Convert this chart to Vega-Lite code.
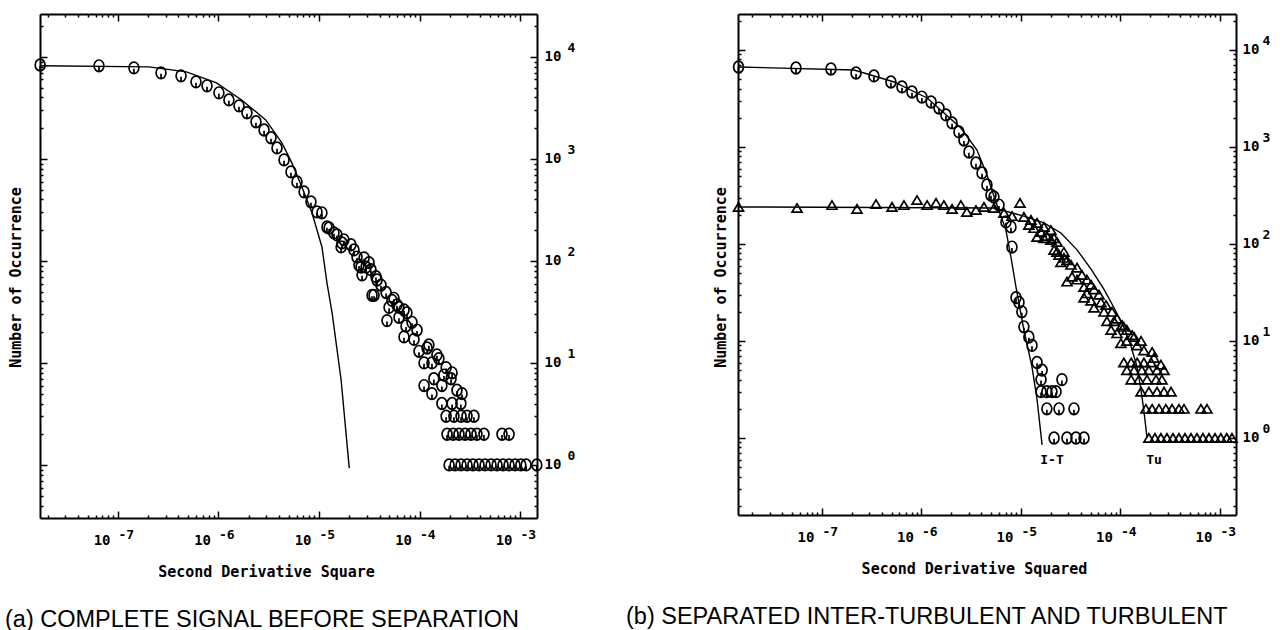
{
  "$schema": "https://vega.github.io/schema/vega-lite/v6.json",
  "background": "white",
  "padding": {"left": 5, "top": 13, "right": 0, "bottom": 0},
  "config": {
    "view": {"stroke": null},
    "axis": {"grid": false, "domainColor": "black", "domainWidth": 2, "tickColor": "black", "tickWidth": 1.5, "labelColor": "black", "titleColor": "black", "labelFont": "DejaVu Sans Mono", "labelFontWeight": "bold", "labelFontSize": 14, "titleFont": "DejaVu Sans Mono", "titleFontWeight": "bold", "titleFontSize": 15, "labelFlush": false, "labelOverlap": false, "labelBound": false}
  },
  "datasets": {
    "a_pts": [
      {"x": 1.68e-8, "y": 8320}, {"x": 6.47e-8, "y": 8170}, {"x": 1.44e-7, "y": 7800}, {"x": 2.68e-7, "y": 6970}, {"x": 4.24e-7, "y": 6510},
      {"x": 5.97e-7, "y": 5690}, {"x": 7.69e-7, "y": 5200}, {"x": 1.01e-6, "y": 4440}, {"x": 1.27e-6, "y": 3780}, {"x": 1.60e-6, "y": 3310},
      {"x": 1.92e-6, "y": 2830}, {"x": 2.36e-6, "y": 2310}, {"x": 2.84e-6, "y": 1920}, {"x": 3.33e-6, "y": 1610}, {"x": 3.82e-6, "y": 1280},
      {"x": 4.49e-6, "y": 977}, {"x": 5.26e-6, "y": 746}, {"x": 6.04e-6, "y": 595}, {"x": 7.10e-6, "y": 475}, {"x": 8.32e-6, "y": 379},
      {"x": 9.55e-6, "y": 302}, {"x": 1.07e-5, "y": 296}, {"x": 1.20e-5, "y": 215}, {"x": 1.26e-5, "y": 210}, {"x": 1.41e-5, "y": 188},
      {"x": 1.51e-5, "y": 180}, {"x": 1.66e-5, "y": 137}, {"x": 1.69e-5, "y": 150}, {"x": 1.77e-5, "y": 161}, {"x": 2.08e-5, "y": 144},
      {"x": 2.23e-5, "y": 128}, {"x": 2.39e-5, "y": 109}, {"x": 2.81e-5, "y": 107},
      {"x": 2.50e-5, "y": 91}, {"x": 2.62e-5, "y": 87}, {"x": 2.68e-5, "y": 73}, {"x": 2.94e-5, "y": 87}, {"x": 3.15e-5, "y": 96},
      {"x": 3.29e-5, "y": 82}, {"x": 3.37e-5, "y": 46}, {"x": 3.53e-5, "y": 46}, {"x": 3.69e-5, "y": 70}, {"x": 3.78e-5, "y": 65},
      {"x": 4.14e-5, "y": 58}, {"x": 5.57e-5, "y": 43}, {"x": 7.02e-5, "y": 33}, {"x": 9.45e-5, "y": 21}, {"x": 1.24e-4, "y": 15},
      {"x": 1.49e-4, "y": 12}, {"x": 1.75e-4, "y": 7.6}, {"x": 2.36e-4, "y": 5.4},
      {"x": 4.65e-5, "y": 49}, {"x": 4.75e-5, "y": 26}, {"x": 4.98e-5, "y": 35}, {"x": 5.32e-5, "y": 41}, {"x": 5.97e-5, "y": 37},
      {"x": 6.25e-5, "y": 35}, {"x": 6.25e-5, "y": 28}, {"x": 7.01e-5, "y": 18}, {"x": 7.34e-5, "y": 23}, {"x": 7.51e-5, "y": 31},
      {"x": 8.42e-5, "y": 25}, {"x": 8.82e-5, "y": 17}, {"x": 9.89e-5, "y": 13}, {"x": 1.11e-4, "y": 10}, {"x": 1.11e-4, "y": 6},
      {"x": 1.19e-4, "y": 14}, {"x": 1.33e-4, "y": 10}, {"x": 1.33e-4, "y": 5}, {"x": 1.39e-4, "y": 7}, {"x": 1.56e-4, "y": 11},
      {"x": 1.67e-4, "y": 6}, {"x": 1.67e-4, "y": 4}, {"x": 1.84e-4, "y": 9}, {"x": 2.06e-4, "y": 7}, {"x": 2.11e-4, "y": 8},
      {"x": 2.11e-4, "y": 4}, {"x": 2.58e-4, "y": 4}, {"x": 2.65e-4, "y": 5},
      {"x": 1.84e-4, "y": 3}, {"x": 2.20e-4, "y": 3}, {"x": 2.59e-4, "y": 3}, {"x": 2.97e-4, "y": 3}, {"x": 3.48e-4, "y": 3},
      {"x": 1.88e-4, "y": 2}, {"x": 2.16e-4, "y": 2}, {"x": 2.47e-4, "y": 2}, {"x": 2.84e-4, "y": 2}, {"x": 3.25e-4, "y": 2},
      {"x": 3.73e-4, "y": 2}, {"x": 4.38e-4, "y": 2}, {"x": 6.62e-4, "y": 2}, {"x": 7.78e-4, "y": 2},
      {"x": 1.97e-4, "y": 1}, {"x": 2.26e-4, "y": 1}, {"x": 2.59e-4, "y": 1}, {"x": 2.97e-4, "y": 1}, {"x": 3.40e-4, "y": 1},
      {"x": 3.91e-4, "y": 1}, {"x": 4.49e-4, "y": 1}, {"x": 5.15e-4, "y": 1}, {"x": 5.91e-4, "y": 1}, {"x": 6.78e-4, "y": 1},
      {"x": 7.78e-4, "y": 1}, {"x": 8.92e-4, "y": 1}, {"x": 1.02e-3, "y": 1}, {"x": 1.15e-3, "y": 1}, {"x": 1.47e-3, "y": 1}
    ],
    "a_fit": [
      {"x": 1.68e-8, "y": 8170}, {"x": 2.04e-7, "y": 7980}, {"x": 4.79e-7, "y": 7130}, {"x": 9.55e-7, "y": 5560}, {"x": 1.70e-6, "y": 3780},
      {"x": 2.95e-6, "y": 2410}, {"x": 4.27e-6, "y": 1435}, {"x": 5.37e-6, "y": 914}, {"x": 6.76e-6, "y": 531}, {"x": 8.51e-6, "y": 296},
      {"x": 1.07e-5, "y": 137}, {"x": 1.20e-5, "y": 61}, {"x": 1.35e-5, "y": 30.9}, {"x": 1.66e-5, "y": 6.8}, {"x": 2.0e-5, "y": 0.93}
    ],
    "b_it": [
      {"x": 1.45e-8, "y": 6680}, {"x": 5.48e-8, "y": 6520}, {"x": 1.23e-7, "y": 6370}, {"x": 2.20e-7, "y": 5790}, {"x": 3.33e-7, "y": 5400},
      {"x": 4.93e-7, "y": 4680}, {"x": 6.37e-7, "y": 4160}, {"x": 8.03e-7, "y": 3690}, {"x": 1.01e-6, "y": 3270}, {"x": 1.25e-6, "y": 2910},
      {"x": 1.50e-6, "y": 2520}, {"x": 1.76e-6, "y": 2140}, {"x": 2.03e-6, "y": 1770}, {"x": 2.38e-6, "y": 1430}, {"x": 2.67e-6, "y": 1180},
      {"x": 3.00e-6, "y": 888}, {"x": 3.53e-6, "y": 684}, {"x": 4.06e-6, "y": 540}, {"x": 4.55e-6, "y": 406}, {"x": 4.99e-6, "y": 320},
      {"x": 5.35e-6, "y": 305}, {"x": 6.01e-6, "y": 252}, {"x": 7.06e-6, "y": 169}, {"x": 7.93e-6, "y": 150}, {"x": 8.12e-6, "y": 93},
      {"x": 8.91e-6, "y": 28}, {"x": 9.55e-6, "y": 25}, {"x": 1.02e-5, "y": 20}, {"x": 1.07e-5, "y": 14}, {"x": 1.20e-5, "y": 11},
      {"x": 1.29e-5, "y": 9}, {"x": 1.45e-5, "y": 6}, {"x": 1.63e-5, "y": 5}, {"x": 1.59e-5, "y": 4}, {"x": 2.58e-5, "y": 4},
      {"x": 1.59e-5, "y": 3}, {"x": 1.82e-5, "y": 3}, {"x": 2.05e-5, "y": 3}, {"x": 2.25e-5, "y": 3},
      {"x": 1.82e-5, "y": 2}, {"x": 2.41e-5, "y": 2}, {"x": 3.41e-5, "y": 2},
      {"x": 2.15e-5, "y": 1}, {"x": 2.90e-5, "y": 1}, {"x": 3.57e-5, "y": 1}, {"x": 4.30e-5, "y": 1}
    ],
    "b_tu": [
      {"x": 1.45e-8, "y": 241}, {"x": 5.61e-8, "y": 235}, {"x": 1.26e-7, "y": 252}, {"x": 2.25e-7, "y": 230}, {"x": 3.49e-7, "y": 258},
      {"x": 5.06e-7, "y": 241}, {"x": 6.67e-7, "y": 252}, {"x": 9.02e-7, "y": 284}, {"x": 1.14e-6, "y": 252}, {"x": 1.40e-6, "y": 265},
      {"x": 1.68e-6, "y": 252}, {"x": 2.03e-6, "y": 230}, {"x": 2.49e-6, "y": 252}, {"x": 2.86e-6, "y": 214}, {"x": 3.53e-6, "y": 224},
      {"x": 4.25e-6, "y": 241}, {"x": 5.35e-6, "y": 235}, {"x": 6.75e-6, "y": 209}, {"x": 8.12e-6, "y": 194}, {"x": 9.77e-6, "y": 265},
      {"x": 1.07e-5, "y": 190}, {"x": 1.26e-5, "y": 177}, {"x": 1.45e-5, "y": 165}, {"x": 1.70e-5, "y": 150}, {"x": 2.00e-5, "y": 139},
      {"x": 1.20e-5, "y": 157}, {"x": 1.35e-5, "y": 146}, {"x": 1.59e-5, "y": 133}, {"x": 1.82e-5, "y": 121}, {"x": 2.15e-5, "y": 115},
      {"x": 1.45e-5, "y": 118}, {"x": 1.70e-5, "y": 115}, {"x": 2.00e-5, "y": 110}, {"x": 2.30e-5, "y": 105},
      {"x": 2.15e-5, "y": 87}, {"x": 2.41e-5, "y": 77}, {"x": 2.70e-5, "y": 72}, {"x": 3.18e-5, "y": 61}, {"x": 3.66e-5, "y": 57},
      {"x": 4.10e-5, "y": 48}, {"x": 4.60e-5, "y": 43}, {"x": 5.42e-5, "y": 34}, {"x": 6.08e-5, "y": 30}, {"x": 7.15e-5, "y": 23.5},
      {"x": 8.22e-5, "y": 20}, {"x": 9.23e-5, "y": 17}, {"x": 1.04e-4, "y": 14.6}, {"x": 1.16e-4, "y": 13}, {"x": 1.31e-4, "y": 11.5},
      {"x": 1.47e-4, "y": 9}, {"x": 1.72e-4, "y": 8}, {"x": 2.17e-4, "y": 6.7}, {"x": 2.55e-4, "y": 5.7},
      {"x": 2.30e-5, "y": 83}, {"x": 2.70e-5, "y": 83}, {"x": 2.90e-5, "y": 68}, {"x": 2.52e-5, "y": 65},
      {"x": 3.26e-5, "y": 46}, {"x": 2.90e-5, "y": 41}, {"x": 3.66e-5, "y": 43}, {"x": 4.30e-5, "y": 36}, {"x": 4.60e-5, "y": 31}, {"x": 5.06e-5, "y": 38},
      {"x": 4.30e-5, "y": 28}, {"x": 5.06e-5, "y": 26}, {"x": 5.42e-5, "y": 22}, {"x": 6.37e-5, "y": 25}, {"x": 6.83e-5, "y": 20},
      {"x": 7.31e-5, "y": 16}, {"x": 8.61e-5, "y": 16}, {"x": 8.04e-5, "y": 13}, {"x": 9.23e-5, "y": 12}, {"x": 1.08e-4, "y": 14},
      {"x": 1.01e-4, "y": 9.5}, {"x": 1.16e-4, "y": 10}, {"x": 1.37e-4, "y": 11}, {"x": 1.61e-4, "y": 10}, {"x": 2.08e-4, "y": 7.7},
      {"x": 1.08e-4, "y": 6}, {"x": 1.28e-4, "y": 6}, {"x": 1.47e-4, "y": 6}, {"x": 1.72e-4, "y": 6}, {"x": 2.03e-4, "y": 6},
      {"x": 1.16e-4, "y": 5}, {"x": 1.37e-4, "y": 5}, {"x": 1.64e-4, "y": 5}, {"x": 1.93e-4, "y": 5}, {"x": 2.33e-4, "y": 5}, {"x": 2.74e-4, "y": 5},
      {"x": 1.28e-4, "y": 4}, {"x": 1.53e-4, "y": 4}, {"x": 1.85e-4, "y": 4}, {"x": 2.28e-4, "y": 4}, {"x": 2.61e-4, "y": 4},
      {"x": 1.61e-4, "y": 3}, {"x": 1.93e-4, "y": 3}, {"x": 2.33e-4, "y": 3}, {"x": 2.74e-4, "y": 3}, {"x": 3.22e-4, "y": 3},
      {"x": 1.80e-4, "y": 2}, {"x": 2.08e-4, "y": 2}, {"x": 2.44e-4, "y": 2}, {"x": 2.86e-4, "y": 2}, {"x": 3.30e-4, "y": 2},
      {"x": 3.87e-4, "y": 2}, {"x": 4.35e-4, "y": 2}, {"x": 6.44e-4, "y": 2}, {"x": 7.40e-4, "y": 2},
      {"x": 1.93e-4, "y": 1}, {"x": 2.22e-4, "y": 1}, {"x": 2.55e-4, "y": 1}, {"x": 2.93e-4, "y": 1}, {"x": 3.37e-4, "y": 1},
      {"x": 3.87e-4, "y": 1}, {"x": 4.45e-4, "y": 1}, {"x": 5.11e-4, "y": 1}, {"x": 5.87e-4, "y": 1}, {"x": 6.74e-4, "y": 1},
      {"x": 7.75e-4, "y": 1}, {"x": 8.91e-4, "y": 1}, {"x": 1.02e-3, "y": 1}, {"x": 1.17e-3, "y": 1}, {"x": 1.32e-3, "y": 1}
    ],
    "b_fit": [
      {"series": "I-T", "x": 1.45e-8, "y": 6680}, {"series": "I-T", "x": 2.10e-7, "y": 6220}, {"series": "I-T", "x": 5.30e-7, "y": 4680},
      {"series": "I-T", "x": 1.14e-6, "y": 3200}, {"series": "I-T", "x": 2.49e-6, "y": 1570}, {"series": "I-T", "x": 3.61e-6, "y": 931},
      {"series": "I-T", "x": 4.55e-6, "y": 514}, {"series": "I-T", "x": 5.74e-6, "y": 252}, {"series": "I-T", "x": 7.06e-6, "y": 139},
      {"series": "I-T", "x": 7.93e-6, "y": 73}, {"series": "I-T", "x": 8.91e-6, "y": 36}, {"series": "I-T", "x": 1.07e-5, "y": 13},
      {"series": "I-T", "x": 1.29e-5, "y": 5.4}, {"series": "I-T", "x": 1.45e-5, "y": 2.5}, {"series": "I-T", "x": 1.63e-5, "y": 0.85},
      {"series": "Tu", "x": 1.45e-8, "y": 241}, {"series": "Tu", "x": 5.35e-6, "y": 235}, {"series": "Tu", "x": 1.07e-5, "y": 194},
      {"series": "Tu", "x": 1.70e-5, "y": 165}, {"series": "Tu", "x": 2.52e-5, "y": 130}, {"series": "Tu", "x": 3.66e-5, "y": 87},
      {"series": "Tu", "x": 5.06e-5, "y": 55}, {"series": "Tu", "x": 6.83e-5, "y": 34}, {"series": "Tu", "x": 8.61e-5, "y": 22},
      {"series": "Tu", "x": 1.08e-4, "y": 14}, {"series": "Tu", "x": 1.28e-4, "y": 8.7}, {"series": "Tu", "x": 1.47e-4, "y": 5.4},
      {"series": "Tu", "x": 1.61e-4, "y": 3.1}, {"series": "Tu", "x": 1.72e-4, "y": 1.9}, {"series": "Tu", "x": 1.85e-4, "y": 1}
    ],
    "b_lbl": [
      {"x": 2.05e-5, "y": 0.593, "label": "I-T"},
      {"x": 2.17e-4, "y": 0.593, "label": "Tu"}
    ]
  },
  "spacing": 51,
  "hconcat": [
    {
      "width": 497,
      "height": 504,
      "title": {"text": "(a) COMPLETE SIGNAL BEFORE SEPARATION", "orient": "bottom", "anchor": "start", "frame": "group", "dx": -35, "offset": 29, "font": "Liberation Sans", "fontSize": 23.5, "fontWeight": "normal", "color": "black"},
      "layer": [
        {
          "data": {"name": "a_fit"},
          "mark": {"type": "line", "color": "black", "strokeWidth": 1.4},
          "encoding": {
            "x": {"field": "x", "type": "quantitative", "scale": {"type": "log", "domain": [1.675e-8, 1.476e-3], "nice": false},
              "axis": {"orient": "bottom", "values": [2e-8,3e-8,4e-8,5e-8,6e-8,7e-8,8e-8,9e-8,1e-7,2e-7,3e-7,4e-7,5e-7,6e-7,7e-7,8e-7,9e-7,1e-6,2e-6,3e-6,4e-6,5e-6,6e-6,7e-6,8e-6,9e-6,1e-5,2e-5,3e-5,4e-5,5e-5,6e-5,7e-5,8e-5,9e-5,1e-4,2e-4,3e-4,4e-4,5e-4,6e-4,7e-4,8e-4,9e-4,1e-3],
                "labelExpr": "indexof([1e-7,1e-6,1e-5,1e-4,1e-3], datum.value) < 0 ? '' : '10'",
                "labelAlign": "right", "labelOffset": -8,
                "tickSize": {"condition": {"test": "indexof([1e-7,1e-6,1e-5,1e-4,1e-3], datum.value) >= 0", "value": -7}, "value": -3},
                "labelPadding": 22, "title": "Second Derivative Square", "titlePadding": 13, "titleX": 226}},
            "y": {"field": "y", "type": "quantitative", "scale": {"type": "log", "domain": [0.302, 26303], "nice": false},
              "axis": {"orient": "left", "values": [0.4,0.5,0.6,0.7,0.8,0.9,1,2,3,4,5,6,7,8,9,10,20,30,40,50,60,70,80,90,100,200,300,400,500,600,700,800,900,1000,2000,3000,4000,5000,6000,7000,8000,9000,10000,20000],
                "labels": false,
                "tickSize": {"condition": {"test": "indexof([1,10,100,1000,10000], datum.value) >= 0", "value": -7}, "value": -3},
                "title": "Number of Occurrence", "titlePadding": 16, "titleY": 263}}
          }
        },
        {
          "data": {"name": "a_pts"},
          "transform": [{"filter": "datum.y >= 4"}],
          "mark": {"type": "point", "shape": "M-0.85,0A0.85,1,0,1,1,0.85,0A0.85,1,0,1,1,-0.85,0M0,0.15L0,1", "filled": false, "stroke": "black", "strokeWidth": 1.7, "size": 135, "opacity": 1},
          "encoding": {
            "x": {"field": "x", "type": "quantitative", "scale": {"type": "log", "domain": [1.675e-8, 1.476e-3], "nice": false},
              "axis": {"orient": "top", "values": [2e-8,3e-8,4e-8,5e-8,6e-8,7e-8,8e-8,9e-8,1e-7,2e-7,3e-7,4e-7,5e-7,6e-7,7e-7,8e-7,9e-7,1e-6,2e-6,3e-6,4e-6,5e-6,6e-6,7e-6,8e-6,9e-6,1e-5,2e-5,3e-5,4e-5,5e-5,6e-5,7e-5,8e-5,9e-5,1e-4,2e-4,3e-4,4e-4,5e-4,6e-4,7e-4,8e-4,9e-4,1e-3],
                "labels": false, "title": null,
                "tickSize": {"condition": {"test": "indexof([1e-7,1e-6,1e-5,1e-4,1e-3], datum.value) >= 0", "value": -7}, "value": -3}}},
            "y": {"field": "y", "type": "quantitative", "scale": {"type": "log", "domain": [0.302, 26303], "nice": false},
              "axis": {"orient": "right", "values": [0.4,0.5,0.6,0.7,0.8,0.9,1,2,3,4,5,6,7,8,9,10,20,30,40,50,60,70,80,90,100,200,300,400,500,600,700,800,900,1000,2000,3000,4000,5000,6000,7000,8000,9000,10000,20000],
                "labelExpr": "indexof([1,10,100,1000,10000], datum.value) < 0 ? '' : '10'",
                "tickSize": {"condition": {"test": "indexof([1,10,100,1000,10000], datum.value) >= 0", "value": -7}, "value": -3},
                "labelPadding": 14, "title": null}}
          }
        },
        {
          "data": {"name": "a_pts"},
          "transform": [{"filter": "datum.y < 4"}],
          "mark": {"type": "point", "shape": "M-0.85,0A0.85,1,0,1,1,0.85,0A0.85,1,0,1,1,-0.85,0M0,0.15L0,1", "filled": false, "stroke": "black", "strokeWidth": 1.7, "size": 135, "opacity": 1},
          "encoding": {
            "x": {"field": "x", "type": "quantitative", "scale": {"type": "log", "domain": [1.675e-8, 1.476e-3], "nice": false},
              "axis": {"orient": "bottom", "values": [1e-7,1e-6,1e-5,1e-4,1e-3], "ticks": false, "domain": false, "title": null,
                "labelExpr": "['-7','-6','-5','-4','-3'][indexof([1e-7,1e-6,1e-5,1e-4,1e-3], datum.value)]",
                "labelAlign": "left", "labelOffset": 0, "labelPadding": 10, "labelFontSize": 13}},
            "y": {"field": "y", "type": "quantitative", "scale": {"type": "log", "domain": [0.302, 26303], "nice": false},
              "axis": {"orient": "right", "values": [1,10,100,1000,10000], "ticks": false, "domain": false, "title": null,
                "labelExpr": "['0','1','2','3','4'][indexof([1,10,100,1000,10000], datum.value)]",
                "labelPadding": 30, "labelOffset": -9, "labelFontSize": 13}}
          }
        }
      ],
      "resolve": {"axis": {"x": "independent", "y": "independent"}}
    },
    {
      "width": 498,
      "height": 501,
      "title": {"text": "(b) SEPARATED INTER-TURBULENT AND TURBULENT", "orient": "bottom", "anchor": "start", "frame": "group", "dx": -112, "offset": 29, "font": "Liberation Sans", "fontSize": 23.5, "fontWeight": "normal", "color": "black"},
      "layer": [
        {
          "data": {"name": "b_fit"},
          "mark": {"type": "line", "color": "black", "strokeWidth": 1.4},
          "encoding": {
            "detail": {"field": "series"},
            "x": {"field": "x", "type": "quantitative", "scale": {"type": "log", "domain": [1.432e-8, 1.449e-3], "nice": false},
              "axis": {"orient": "bottom", "values": [2e-8,3e-8,4e-8,5e-8,6e-8,7e-8,8e-8,9e-8,1e-7,2e-7,3e-7,4e-7,5e-7,6e-7,7e-7,8e-7,9e-7,1e-6,2e-6,3e-6,4e-6,5e-6,6e-6,7e-6,8e-6,9e-6,1e-5,2e-5,3e-5,4e-5,5e-5,6e-5,7e-5,8e-5,9e-5,1e-4,2e-4,3e-4,4e-4,5e-4,6e-4,7e-4,8e-4,9e-4,1e-3],
                "labelExpr": "indexof([1e-7,1e-6,1e-5,1e-4,1e-3], datum.value) < 0 ? '' : '10'",
                "labelAlign": "right", "labelOffset": -8,
                "tickSize": {"condition": {"test": "indexof([1e-7,1e-6,1e-5,1e-4,1e-3], datum.value) >= 0", "value": -7}, "value": -3},
                "labelPadding": 22, "title": "Second Derivative Squared", "titlePadding": 13, "titleX": 236}},
            "y": {"field": "y", "type": "quantitative", "scale": {"type": "log", "domain": [0.1607, 23496], "nice": false},
              "axis": {"orient": "left", "values": [0.2,0.3,0.4,0.5,0.6,0.7,0.8,0.9,1,2,3,4,5,6,7,8,9,10,20,30,40,50,60,70,80,90,100,200,300,400,500,600,700,800,900,1000,2000,3000,4000,5000,6000,7000,8000,9000,10000,20000],
                "labels": false,
                "tickSize": {"condition": {"test": "indexof([1,10,100,1000,10000], datum.value) >= 0", "value": -7}, "value": -3},
                "title": "Number of Occurrence", "titlePadding": 9, "titleY": 263}}
          }
        },
        {
          "data": {"name": "b_it"},
          "mark": {"type": "point", "shape": "M-0.85,0A0.85,1,0,1,1,0.85,0A0.85,1,0,1,1,-0.85,0M0,0.15L0,1", "filled": false, "stroke": "black", "strokeWidth": 1.7, "size": 135, "opacity": 1},
          "encoding": {
            "x": {"field": "x", "type": "quantitative", "scale": {"type": "log", "domain": [1.432e-8, 1.449e-3], "nice": false},
              "axis": {"orient": "top", "values": [2e-8,3e-8,4e-8,5e-8,6e-8,7e-8,8e-8,9e-8,1e-7,2e-7,3e-7,4e-7,5e-7,6e-7,7e-7,8e-7,9e-7,1e-6,2e-6,3e-6,4e-6,5e-6,6e-6,7e-6,8e-6,9e-6,1e-5,2e-5,3e-5,4e-5,5e-5,6e-5,7e-5,8e-5,9e-5,1e-4,2e-4,3e-4,4e-4,5e-4,6e-4,7e-4,8e-4,9e-4,1e-3],
                "labels": false, "title": null,
                "tickSize": {"condition": {"test": "indexof([1e-7,1e-6,1e-5,1e-4,1e-3], datum.value) >= 0", "value": -7}, "value": -3}}},
            "y": {"field": "y", "type": "quantitative", "scale": {"type": "log", "domain": [0.1607, 23496], "nice": false},
              "axis": {"orient": "right", "values": [0.2,0.3,0.4,0.5,0.6,0.7,0.8,0.9,1,2,3,4,5,6,7,8,9,10,20,30,40,50,60,70,80,90,100,200,300,400,500,600,700,800,900,1000,2000,3000,4000,5000,6000,7000,8000,9000,10000,20000],
                "labelExpr": "indexof([1,10,100,1000,10000], datum.value) < 0 ? '' : '10'",
                "tickSize": {"condition": {"test": "indexof([1,10,100,1000,10000], datum.value) >= 0", "value": -7}, "value": -3},
                "labelPadding": 13, "title": null}}
          }
        },
        {
          "data": {"name": "b_tu"},
          "mark": {"type": "point", "shape": "M0,-0.8L0.95,0.8L-0.95,0.8Z", "filled": false, "stroke": "black", "strokeWidth": 1.7, "size": 110, "opacity": 1},
          "encoding": {
            "x": {"field": "x", "type": "quantitative", "scale": {"type": "log", "domain": [1.432e-8, 1.449e-3], "nice": false},
              "axis": {"orient": "bottom", "values": [1e-7,1e-6,1e-5,1e-4,1e-3], "ticks": false, "domain": false, "title": null,
                "labelExpr": "['-7','-6','-5','-4','-3'][indexof([1e-7,1e-6,1e-5,1e-4,1e-3], datum.value)]",
                "labelAlign": "left", "labelOffset": 0, "labelPadding": 10, "labelFontSize": 13}},
            "y": {"field": "y", "type": "quantitative", "scale": {"type": "log", "domain": [0.1607, 23496], "nice": false},
              "axis": {"orient": "right", "values": [1,10,100,1000,10000], "ticks": false, "domain": false, "title": null,
                "labelExpr": "['0','1','2','3','4'][indexof([1,10,100,1000,10000], datum.value)]",
                "labelPadding": 26, "labelOffset": -9, "labelFontSize": 13}}
          }
        },
        {
          "data": {"name": "b_lbl"},
          "mark": {"type": "text", "font": "DejaVu Sans Mono", "fontWeight": "bold", "fontSize": 13, "color": "black"},
          "encoding": {
            "x": {"field": "x", "type": "quantitative", "scale": {"type": "log", "domain": [1.432e-8, 1.449e-3], "nice": false}, "axis": null},
            "y": {"field": "y", "type": "quantitative", "scale": {"type": "log", "domain": [0.1607, 23496], "nice": false}, "axis": null},
            "text": {"field": "label"}
          }
        }
      ],
      "resolve": {"axis": {"x": "independent", "y": "independent"}}
    }
  ]
}
